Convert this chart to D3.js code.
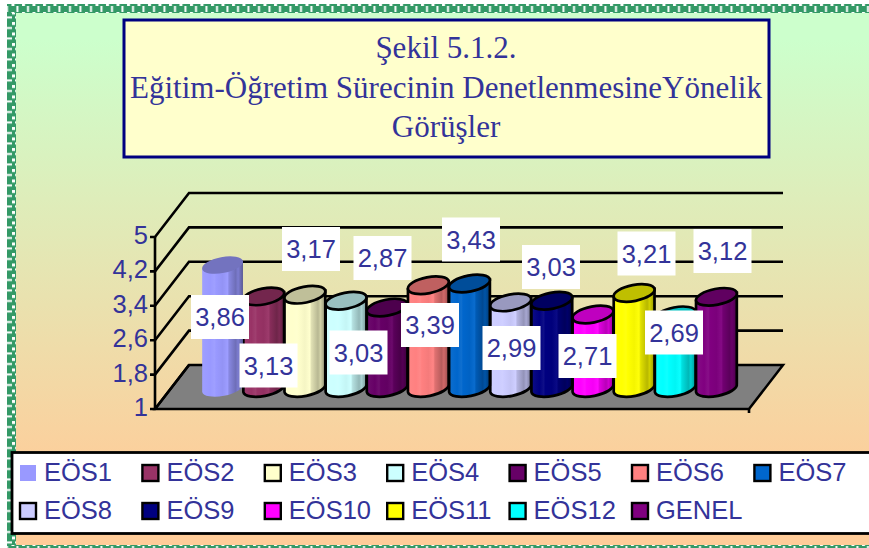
<!DOCTYPE html>
<html><head><meta charset="utf-8">
<script src="https://cdn.jsdelivr.net/npm/d3@7/dist/d3.min.js"></script>
<style>html,body{margin:0;padding:0;background:#fff;overflow:hidden}svg{display:block}</style>
</head><body><svg id="c" width="869" height="548"></svg>
<script>
const categories=["EÖS1","EÖS2","EÖS3","EÖS4","EÖS5","EÖS6","EÖS7","EÖS8","EÖS9","EÖS10","EÖS11","EÖS12","GENEL"];
const values=[3.86,3.13,3.17,3.03,2.87,3.39,3.43,2.99,3.03,2.71,3.21,2.69,3.12];
const colors=["#9999FF","#993366","#FFFFCC","#CCFFFF","#660066","#FF8080","#0066CC","#CCCCFF","#000080","#FF00FF","#FFFF00","#00FFFF","#800080"];
const yTicks=[1,1.8,2.6,3.4,4.2,5];
const titleLines=["Şekil 5.1.2.","Eğitim-Öğretim Sürecinin DenetlenmesineYönelik","Görüşler"];
// label box centres as placed by hand in the source chart (layout, not data)
const labelCentres=[[220,317],[268.5,365.5],[311,249],[358.5,352.5],[382.5,258],[430,325],[471,239.5],[511.5,348],[551,267],[587.5,356],[646.5,253.5],[674,332.5],[722.5,251]];

const fmt=v=>String(v).replace(".",",");
const svg=d3.select("#c"),defs=svg.append("defs"),ink="#333399";
const W=869,H=548;

const bg=defs.append("linearGradient").attr("id","bg").attr("gradientUnits","userSpaceOnUse").attr("x1",0).attr("x2",0).attr("y1",40).attr("y2",490);
bg.append("stop").attr("offset",0).attr("stop-color","#CCFFCC");
bg.append("stop").attr("offset",1).attr("stop-color","#FFCC99");
svg.append("rect").attr("x",16).attr("y",13).attr("width",W-16).attr("height",532).attr("fill","url(#bg)");

// greek-key frame
const pat=(id,w,h,cells)=>{const p=defs.append("pattern").attr("id",id).attr("patternUnits","userSpaceOnUse").attr("width",w).attr("height",h);
 p.append("rect").attr("width",w).attr("height",h).attr("fill","#339966");
 cells.forEach(c=>p.append("rect").attr("x",c[0]).attr("y",c[1]).attr("width",c[2]).attr("height",c[3]).attr("fill","#fff"));};
pat("fh",10.5,9,[[1,3,3,3],[6,0,2,3],[6,6,2,3]]);
pat("fv",9,10.5,[[3,1,3,3],[0,6,3,2],[6,6,3,2]]);
svg.append("rect").attr("x",7).attr("y",4).attr("width",W-7).attr("height",9).attr("fill","url(#fh)");
svg.append("rect").attr("x",7).attr("y",13).attr("width",9).attr("height",H-13).attr("fill","url(#fv)");
svg.append("rect").attr("x",7).attr("y",545).attr("width",W-7).attr("height",3).attr("fill","url(#fh)");

// title
svg.append("rect").attr("x",124).attr("y",20).attr("width",645).attr("height",137).attr("fill","#FFFFCC").attr("stroke","#000080").attr("stroke-width",3);
svg.append("g").selectAll("text").data(titleLines).join("text")
 .attr("x",446).attr("y",(d,i)=>58+i*39.5).attr("text-anchor","middle")
 .attr("font-family","'Liberation Serif',serif").attr("font-size",31).attr("fill",ink).text(d=>d);

// 3D frame
const depth={x:34,y:-44};
const yFront=d3.scaleLinear().domain([1,5]).range([409,237]);
const yBar=d3.scaleLinear().domain([1,5]).range([388,216]);
const xFloor=[155,749];
svg.append("path").attr("d",`M${xFloor[0]},${yFront(1)}L${xFloor[0]+depth.x},${yFront(1)+depth.y}L${xFloor[1]+depth.x},${yFront(1)+depth.y}L${xFloor[1]},${yFront(1)}Z`)
 .attr("fill","#808080").attr("stroke","#000").attr("stroke-width",2.5);
const gl=svg.append("g").attr("stroke","#000").attr("stroke-width",2.6).attr("fill","none");
yTicks.forEach(t=>{
 const y=yFront(t);
 gl.append("path").attr("d",`M${xFloor[0]-5},${y}L${xFloor[0]},${y}L${xFloor[0]+depth.x},${y+depth.y}`+(t===1?"":`L${xFloor[1]+depth.x},${y+depth.y}`));
});
gl.append("line").attr("x1",xFloor[0]).attr("x2",xFloor[0]).attr("y1",yFront(5)).attr("y2",yFront(1));
gl.append("line").attr("x1",xFloor[1]).attr("x2",xFloor[1]).attr("y1",yFront(1)).attr("y2",yFront(1)+4);
svg.append("g").selectAll("text").data(yTicks).join("text")
 .attr("x",148).attr("y",d=>yFront(d)+7).attr("text-anchor","end")
 .attr("font-family","'Liberation Sans',Arial,sans-serif").attr("font-size",25.5).attr("fill",ink).text(fmt);

// cylinders
const x=d3.scaleBand().domain(categories).range([202,737]);
const rx=x.bandwidth()/2+0.2,ry=8,rot=-11,rad=rot*Math.PI/180;
const shade=(c,k)=>{const o=d3.rgb(c);return d3.rgb(o.r*k,o.g*k,o.b*k).formatHex();};
const mix=(c,k)=>d3.interpolateRgb(c,"#fff")(k);
categories.forEach((c,i)=>{
 const g=defs.append("linearGradient").attr("id","cyl"+i);
 [[0,mix(colors[i],.05)],[.2,colors[i]],[.3,mix(colors[i],.06)],[.34,colors[i]],[.5,shade(colors[i],.96)],[.62,mix(colors[i],.04)],[.66,shade(colors[i],.88)],[.82,shade(colors[i],.72)],[.88,shade(colors[i],.82)],[1,shade(colors[i],.58)]]
  .forEach(s=>g.append("stop").attr("offset",s[0]).attr("stop-color",s[1]));
});
const order=d3.range(values.length).sort((a,b)=>values[a]-values[b]);
const dx=rx*Math.cos(rad),dy=rx*Math.sin(rad);
const bars=svg.append("g").selectAll("g").data(order).join("g");
const cx=i=>x(categories[i])+x.bandwidth()/2;
bars.append("path").attr("d",i=>{
  const c=cx(i),t=yBar(values[i]),b=yBar(1);
  return `M${c-dx},${t-dy}L${c-dx},${b-dy}A${rx},${ry} ${rot} 0 0 ${c+dx},${b+dy}L${c+dx},${t+dy}Z`;})
 .attr("fill",i=>`url(#cyl${i})`);
bars.append("ellipse").attr("rx",rx).attr("ry",ry)
 .attr("transform",i=>`translate(${cx(i)},${yBar(values[i])}) rotate(${rot})`)
 .attr("fill",i=>shade(colors[i],.75));
bars.filter(i=>i!==0).selectAll("path,ellipse").attr("stroke","#000").attr("stroke-width",2.7);

// data labels
const lab=svg.append("g").selectAll("g").data(values).join("g").attr("transform",(d,i)=>`translate(${labelCentres[i][0]},${labelCentres[i][1]})`);
lab.append("rect").attr("x",-29).attr("y",-22).attr("width",58).attr("height",44).attr("fill","#fff");
lab.append("text").attr("text-anchor","middle").attr("y",9).attr("font-family","'Liberation Sans',Arial,sans-serif").attr("font-size",25.5).attr("fill",ink).text(fmt);

// legend
svg.append("rect").attr("x",12).attr("y",452.5).attr("width",W+10).attr("height",81).attr("fill","#fff").attr("stroke","#000").attr("stroke-width",2.8);
const leg=svg.append("g").selectAll("g").data(categories).join("g")
 .attr("transform",(d,i)=>`translate(${20+(i%7)*122.4},${i<7?465:503})`);
leg.append("rect").attr("width",16).attr("height",16).attr("fill",(d,i)=>colors[i])
 .attr("stroke",(d,i)=>i?"#000":"none").attr("stroke-width",2.4);
leg.append("text").attr("x",24).attr("y",15.5).attr("font-family","'Liberation Sans',Arial,sans-serif").attr("font-size",25.5).attr("fill",ink).text(d=>d);
</script></body></html>
